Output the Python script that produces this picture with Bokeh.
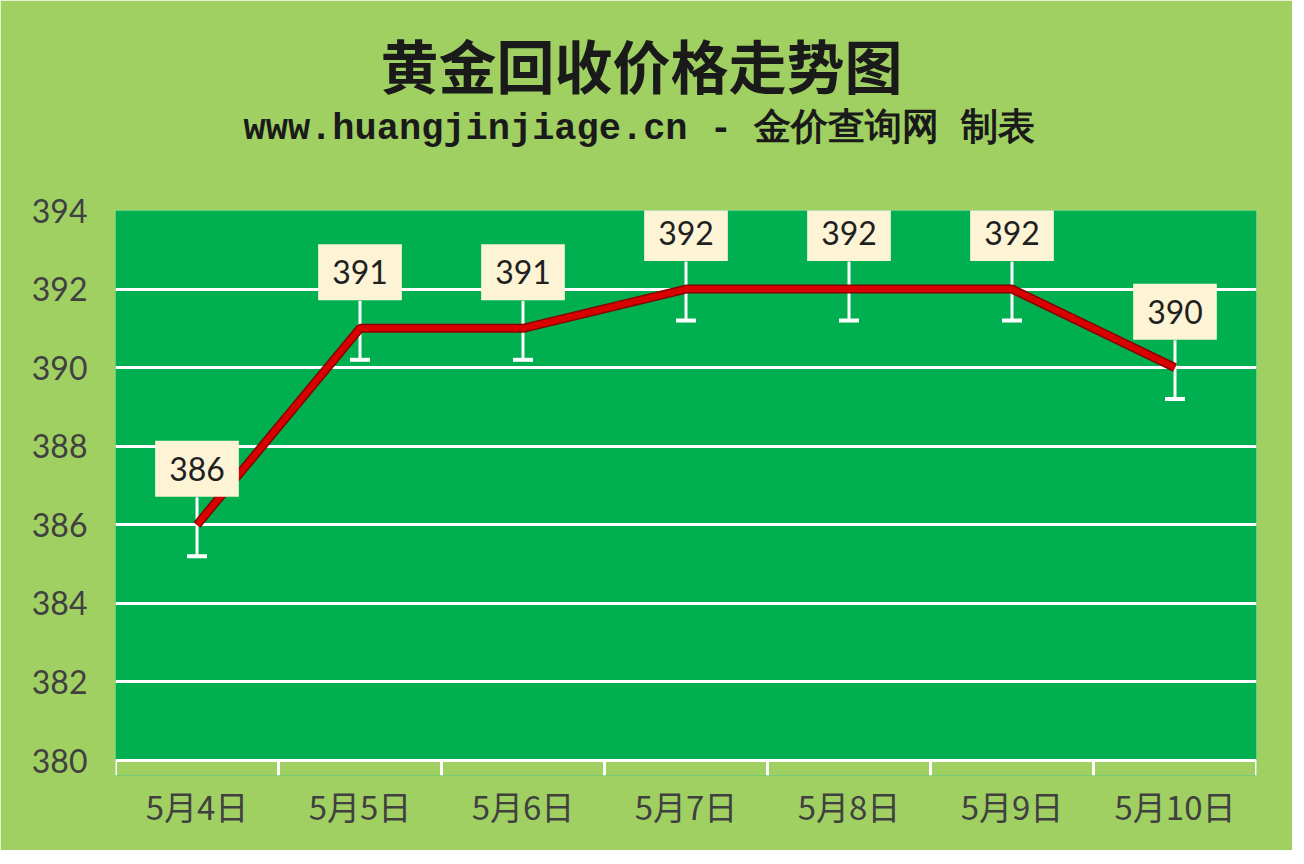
from bokeh.plotting import figure
from bokeh.models import FactorRange, Range1d, FixedTicker, BoxAnnotation, Title, Span
from bokeh.core.properties import value
from bokeh.embed import file_html
from bokeh.resources import INLINE

# data
dates = ["5月4日", "5月5日", "5月6日", "5月7日", "5月8日", "5月9日", "5月10日"]
prices = [386, 391, 391, 392, 392, 392, 390]
y_ticks = [380, 382, 384, 386, 388, 390, 392, 394]

LIGHT = "#a0d062"
GREEN = "#00b050"

p = figure(
    width=1292, height=850,
    x_range=FactorRange(*dates), y_range=Range1d(379.62, 394),
    output_backend="svg", toolbar_location=None,
    min_border_left=115, min_border_right=36, min_border_top=210, min_border_bottom=75,
    background_fill_color=GREEN, border_fill_color=LIGHT,
)
p.outline_line_color = None

# titles (left aligned, shifted in by offset)
p.title.text = "黄金回收价格走势图"
p.title.align = "left"
p.title.offset = 265
p.title.standoff = 0
p.title.text_font = "Noto Sans CJK SC"
p.title.text_font_size = "58px"
p.title.text_font_style = "bold"
p.title.text_color = "#1a1a1a"
spacer = Title(text=" ", text_font_size="53px", standoff=0)
p.add_layout(spacer, "above")
sub = Title(text="www.huangjinjiage.cn - 金价查询网 制表", align="left", offset=128,
            text_font="Liberation Mono", text_font_size="37px",
            text_font_style="bold", text_color="#1a1a1a", standoff=0)
p.add_layout(sub, "above")

# strip below the 380 line belongs to the outer area
p.add_layout(BoxAnnotation(top=380, fill_color=LIGHT, fill_alpha=1, line_color=None, level="underlay"))

# grid
p.ygrid.ticker = FixedTicker(ticks=y_ticks[1:-1])
p.ygrid.grid_line_color = "white"
p.ygrid.grid_line_width = 3
p.xgrid.grid_line_color = None

# y axis
p.yaxis.ticker = FixedTicker(ticks=y_ticks)
p.yaxis.axis_line_color = None
p.yaxis.major_tick_line_color = None
p.yaxis.minor_tick_line_color = None
p.yaxis.major_label_text_font = "Lato"
p.yaxis.major_label_text_font_size = "32px"
p.yaxis.major_label_text_color = "#404040"
p.yaxis.major_label_standoff = 22

# x axis
p.xaxis.axis_line_color = None
p.xaxis.major_tick_line_color = None
p.xaxis.major_label_text_font = "Noto Sans CJK SC"
p.xaxis.major_label_text_font_size = "33px"
p.xaxis.major_label_text_color = "#404040"
p.xaxis.major_label_standoff = 0

# axis line and category boundary ticks
p.add_layout(Span(location=380, dimension="width", line_color="white", line_width=3))
bounds = [(d, -0.5) for d in dates] + [(dates[-1], 0.5)]
p.segment(x0=bounds, y0=[380] * len(bounds), x1=bounds, y1=[379.62] * len(bounds),
          line_color="white", line_width=3)

# white leader bars under the labels
lows = [v - 0.8 for v in prices]
highs = [v + 0.7 for v in prices]
p.segment(x0=dates, y0=lows, x1=dates, y1=highs, line_color="white", line_width=3)
p.scatter(dates, lows, marker="dash", size=20, line_color="white", line_width=4)

# price line
p.line(dates, prices, line_color="#8a0000", line_width=9)
p.line(dates, prices, line_color="#d80000", line_width=6)

# value labels
p.text(x=dates, y=prices, text=[str(v) for v in prices],
       y_offset=-56, text_align="center", text_baseline="middle",
       text_font=value("Lato"), text_font_size="32px", text_color="#1f1f1f",
       background_fill_color="#fdf3d5", padding=dict(x=14, y=16))

open("out.html", "w").write(file_html(p, INLINE))
